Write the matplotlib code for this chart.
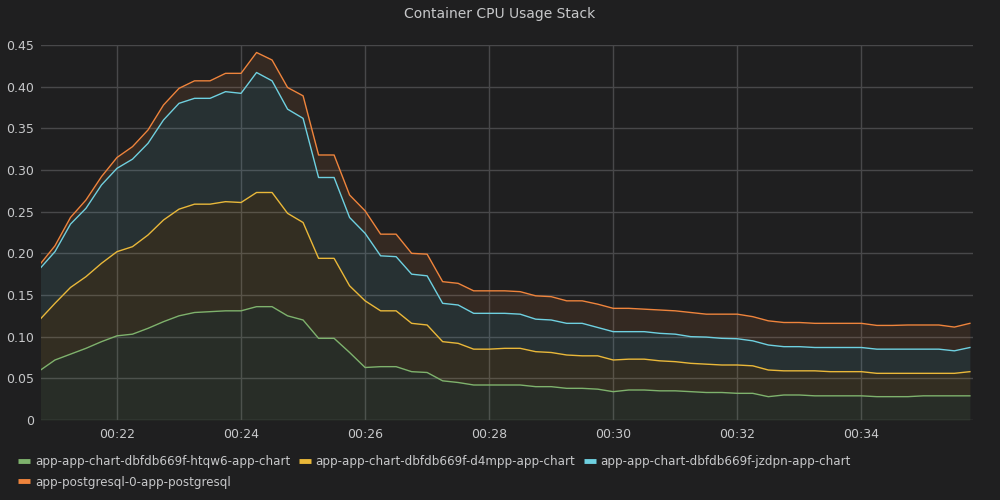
import matplotlib
matplotlib.use("Agg")
import matplotlib.pyplot as plt
import matplotlib.dates as mdates
from matplotlib.lines import Line2D
import numpy as np
import pandas as pd

# ---------------- data ----------------
series_names = [
    "app-app-chart-dbfdb669f-htqw6-app-chart",
    "app-app-chart-dbfdb669f-d4mpp-app-chart",
    "app-app-chart-dbfdb669f-jzdpn-app-chart",
    "app-postgresql-0-app-postgresql",
]
series_colors = ["#7EB26D", "#EAB839", "#6ED0E0", "#EF843C"]

# 15 s samples from 00:20:45 to 00:35:45
timestamps = pd.date_range("2024-01-01 00:20:45", "2024-01-01 00:35:45", freq="15s")

htqw6 = [0.059, 0.072, 0.079, 0.086, 0.094, 0.101, 0.103, 0.110, 0.118, 0.125,
         0.129, 0.130, 0.131, 0.131, 0.136, 0.136, 0.125, 0.120, 0.098, 0.098,
         0.081, 0.063, 0.064, 0.064, 0.058, 0.057, 0.047, 0.045, 0.042, 0.042,
         0.042, 0.042, 0.040, 0.040, 0.038, 0.038, 0.037, 0.034, 0.036, 0.036,
         0.035, 0.035, 0.034, 0.033, 0.033, 0.032, 0.032, 0.028, 0.030, 0.030,
         0.029, 0.029, 0.029, 0.029, 0.028, 0.028, 0.028, 0.029, 0.029, 0.029,
         0.029]
d4mpp = [0.061, 0.068, 0.080, 0.086, 0.094, 0.101, 0.105, 0.112, 0.122, 0.128,
         0.130, 0.129, 0.131, 0.130, 0.137, 0.137, 0.123, 0.117, 0.096, 0.096,
         0.080, 0.080, 0.067, 0.067, 0.058, 0.057, 0.047, 0.047, 0.043, 0.043,
         0.044, 0.044, 0.042, 0.041, 0.040, 0.039, 0.040, 0.038, 0.037, 0.037,
         0.036, 0.035, 0.034, 0.034, 0.033, 0.034, 0.033, 0.032, 0.029, 0.029,
         0.030, 0.029, 0.029, 0.029, 0.028, 0.028, 0.028, 0.027, 0.027, 0.027,
         0.029]
jzdpn = [0.061, 0.062, 0.076, 0.082, 0.094, 0.100, 0.105, 0.110, 0.120, 0.127,
         0.127, 0.127, 0.132, 0.131, 0.144, 0.134, 0.125, 0.125, 0.097, 0.097,
         0.082, 0.081, 0.066, 0.065, 0.059, 0.059, 0.046, 0.046, 0.043, 0.043,
         0.042, 0.041, 0.039, 0.039, 0.038, 0.039, 0.034, 0.034, 0.033, 0.033,
         0.033, 0.033, 0.032, 0.0325, 0.032, 0.0315, 0.030, 0.030, 0.029, 0.029,
         0.028, 0.029, 0.029, 0.029, 0.029, 0.029, 0.029, 0.029, 0.029, 0.027,
         0.029]
postgresql = [0.005, 0.007, 0.008, 0.010, 0.010, 0.013, 0.015, 0.016, 0.018, 0.018,
              0.021, 0.021, 0.022, 0.024, 0.024, 0.025, 0.026, 0.027, 0.027, 0.027,
              0.027, 0.027, 0.026, 0.027, 0.025, 0.026, 0.026, 0.026, 0.027, 0.027,
              0.027, 0.027, 0.028, 0.028, 0.027, 0.027, 0.028, 0.028, 0.028, 0.027,
              0.028, 0.028, 0.029, 0.0275, 0.029, 0.0295, 0.029, 0.029, 0.029, 0.029,
              0.029, 0.029, 0.029, 0.029, 0.0285, 0.0285, 0.029, 0.029, 0.029, 0.0285,
              0.029]

y_ticks = [0, 0.05, 0.10, 0.15, 0.20, 0.25, 0.30, 0.35, 0.40, 0.45]
y_tick_labels = ["0", "0.05", "0.10", "0.15", "0.20", "0.25", "0.30", "0.35", "0.40", "0.45"]

# ---------------- style ----------------
BG = "#1f1f20"
TEXT = "#c7c8ca"
GRID = "#48484a"

fig = plt.figure(figsize=(10, 5), dpi=100, facecolor=BG)
ax = fig.add_axes([0.041, 0.16, 0.932, 0.75], facecolor=BG)

values = [np.array(htqw6), np.array(d4mpp), np.array(jzdpn), np.array(postgresql)]
stack = np.cumsum(np.vstack(values), axis=0)
x = mdates.date2num(timestamps.to_pydatetime())

lower = np.zeros_like(stack[0])
for i in range(len(values)):
    upper = stack[i]
    ax.fill_between(x, lower, upper, color=series_colors[i], alpha=0.1, linewidth=0, zorder=2)
    ax.plot(x, upper, color=series_colors[i], lw=1.0, zorder=3)
    lower = upper

ax.set_ylim(0, 0.45)
ax.set_yticks(y_ticks)
ax.set_yticklabels(y_tick_labels)
ax.set_xlim(mdates.date2num(pd.Timestamp("2024-01-01 00:20:46.5")),
            mdates.date2num(pd.Timestamp("2024-01-01 00:35:48")))
ax.xaxis.set_major_locator(mdates.MinuteLocator(byminute=range(0, 60, 2)))
ax.xaxis.set_major_formatter(mdates.DateFormatter("%H:%M"))

ax.grid(True, color=GRID, lw=1, zorder=1)
ax.set_axisbelow(True)
for s in ax.spines.values():
    s.set_visible(False)
ax.tick_params(colors=TEXT, labelsize=9, length=0, pad=6)
ax.tick_params(axis="y", pad=5)

fig.text(0.5, 0.972, "Container CPU Usage Stack", color=TEXT, fontsize=10,
         ha="center", va="center")

# legend in row-major order (3 columns)
handles = [Line2D([], [], color=c, lw=3.5, solid_capstyle="butt") for c in series_colors]
order = [0, 3, 1, 2]
leg = fig.legend([handles[i] for i in order], [series_names[i] for i in order],
                 loc="upper left", bbox_to_anchor=(0.018, 0.089), ncol=3,
                 frameon=False, fontsize=8.6, labelcolor=TEXT,
                 handlelength=1.0, handletextpad=0.42, columnspacing=0.7,
                 labelspacing=0.6, borderaxespad=0, borderpad=0)

fig.savefig("out.png", dpi=100, facecolor=BG)
